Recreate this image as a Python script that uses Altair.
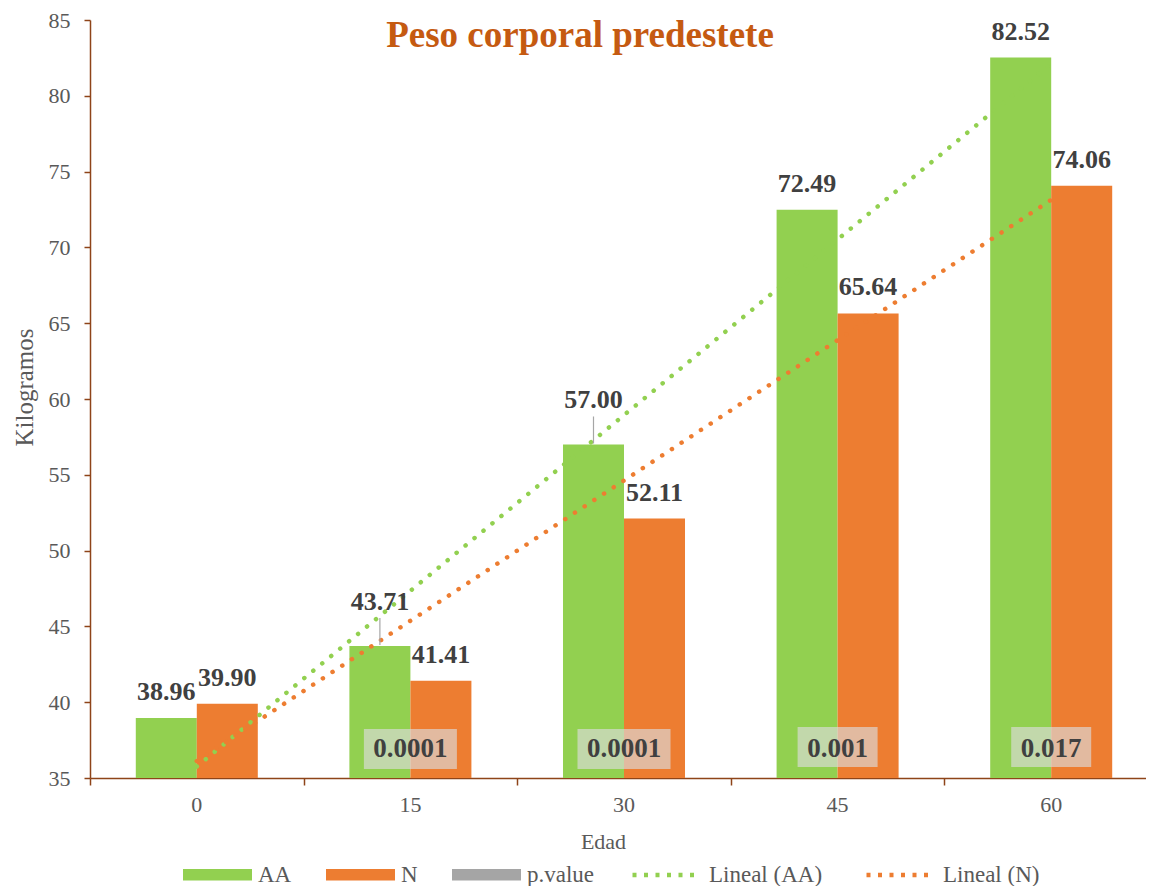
import altair as alt
import pandas as pd

# ---- data ----
edades = [0, 15, 30, 45, 60]
serie_aa = [38.96, 43.71, 57.00, 72.49, 82.52]
serie_n = [39.90, 41.41, 52.11, 65.64, 74.06]
pval_edades = [15, 30, 45, 60]
pval_texto = ["0.0001", "0.0001", "0.001", "0.017"]
series = ["AA", "N", "p.value"]
lineas = ["Lineal (AA)", "Lineal (N)"]
titulo = "Peso corporal predestete"

rows = []
for e, a, b in zip(edades, serie_aa, serie_n):
    rows.append({"edad": e, "serie": "AA", "valor": a})
    rows.append({"edad": e, "serie": "N", "valor": b})
df = pd.DataFrame(rows)
dfp = pd.DataFrame({"edad": pval_edades, "p": pval_texto})
dft = pd.DataFrame({"t": [titulo]})

# ---- styling ----
F = "Liberation Serif"
GREEN, ORANGE, GRAY = "#92D050", "#ED7D31", "#A5A5A5"
AXIS_C = "#8E4419"
TXT = "#595959"
LBL = "#404040"
W, H = 1056, 758
XR = 1068

x_enc = alt.X(
    "edad:O",
    title="Edad",
    scale=alt.Scale(range=[0, XR], paddingInner=0.4288, paddingOuter=0.2144),
    axis=alt.Axis(labelAngle=0, ticks=False, labelPadding=16,
                  titlePadding=16, titleX=513, domainColor=AXIS_C,
                  domainWidth=1.5, labelColor=TXT, labelFont=F,
                  labelFontSize=22, titleFont=F, titleFontSize=22,
                  titleFontWeight="normal", titleColor=TXT, grid=False),
)
y_enc = alt.Y(
    "valor:Q",
    title="Kilogramos",
    scale=alt.Scale(domain=[35, 85], nice=False, zero=False),
    axis=alt.Axis(values=list(range(35, 90, 5)), tickSize=6, labelPadding=14,
                  titlePadding=11, titleY=367, domainColor=AXIS_C, tickColor=AXIS_C,
                  domainWidth=1.5, tickWidth=1.5, labelColor=TXT, labelFont=F,
                  labelFontSize=22, titleFont=F, titleFontSize=25,
                  titleFontWeight="normal", titleColor=TXT, grid=False),
)
xoff = alt.XOffset("serie:N", scale=alt.Scale(domain=["AA", "N"], paddingInner=0, paddingOuter=0))

bars = alt.Chart(df).mark_bar().encode(
    x=x_enc, xOffset=xoff, y=y_enc, y2=alt.datum(35),
    color=alt.Color(
        "serie:N",
        scale=alt.Scale(domain=series, range=[GREEN, ORANGE, GRAY]),
        legend=alt.Legend(orient="none", legendX=93, legendY=820, direction="horizontal",
                          columns=3, title=None, symbolType="M-1,-0.17H1V0.17H-1Z",
                          symbolSize=4761, symbolStrokeWidth=0, labelFont=F,
                          labelFontSize=23, labelColor=TXT, labelOffset=6,
                          columnPadding=34),
    ),
)

trend = alt.Chart(df).transform_regression(
    "edad", "valor", groupby=["serie"]
).transform_calculate(
    linea="'Lineal (' + datum.serie + ')'"
).mark_line(strokeWidth=4.5, strokeDash=[0.1, 11.5], strokeCap="round").encode(
    x=x_enc, y=y_enc,
    color=alt.Color(
        "linea:N",
        scale=alt.Scale(domain=lineas, range=[GREEN, ORANGE]),
        legend=alt.Legend(orient="none", legendX=540, legendY=820, direction="horizontal",
                          columns=2, title=None, symbolType="stroke", symbolSize=4225,
                          symbolStrokeWidth=4.5, symbolDash=[4, 7.5], labelFont=F,
                          labelFontSize=23, labelColor=TXT, labelOffset=9,
                          columnPadding=34),
    ),
)

raised = "datum.serie == 'AA' && (datum.edad == 15 || datum.edad == 30)"

labels = alt.Chart(df).transform_filter("!(" + raised + ")").mark_text(
    font=F, fontSize=26, fontWeight="bold", color=LBL, dy=-26, baseline="middle"
).encode(x=x_enc, xOffset=xoff, y=y_enc, text=alt.Text("valor:Q", format=".2f"))

labels_up = alt.Chart(df).transform_filter(raised).mark_text(
    font=F, fontSize=26, fontWeight="bold", color=LBL, dy=-44, baseline="middle"
).encode(x=x_enc, xOffset=xoff, y=y_enc, text=alt.Text("valor:Q", format=".2f"))

leaders = alt.Chart(df).transform_filter(raised).mark_rule(
    color="#A6A6A6", strokeWidth=1.2, yOffset=-1, y2Offset=-28
).encode(x=x_enc, xOffset=xoff, y=y_enc, y2="valor:Q")

box_long = alt.Chart(dfp).transform_filter("length(datum.p) >= 6").mark_bar(
    width=93, color="#DCDCDC", opacity=0.65
).encode(x=x_enc, y=alt.value(H - 49), y2=alt.value(H - 9))

box_short = alt.Chart(dfp).transform_filter("length(datum.p) < 6").mark_bar(
    width=80, color="#DCDCDC", opacity=0.65
).encode(x=x_enc, y=alt.value(H - 51), y2=alt.value(H - 11))

ptext = alt.Chart(dfp).mark_text(
    font=F, fontSize=27, fontWeight="bold", color=LBL, baseline="middle"
).encode(x=x_enc, y=alt.value(H - 29), text="p:N")

title = alt.Chart(dft).mark_text(
    font=F, fontSize=37, fontWeight="bold", color="#C55A11", baseline="alphabetic"
).encode(x=alt.value(490), y=alt.value(27), text="t:N")

main = alt.layer(
    bars, box_long, box_short, ptext, trend, leaders, labels, labels_up, title
).resolve_scale(color="independent")

# category-boundary tick marks (Excel style) on a plain band scale
ticks_layer = alt.Chart(df).mark_point(opacity=0).encode(
    x=alt.X("edad:O", title=None,
            scale=alt.Scale(range=[0, XR], paddingInner=0, paddingOuter=0),
            axis=alt.Axis(orient="bottom", labels=False, domain=False, title=None,
                          tickBand="extent", tickSize=7, tickColor=AXIS_C,
                          tickWidth=1.5, grid=False)),
)

chart = alt.layer(main, ticks_layer).resolve_scale(x="independent").properties(
    width=W, height=H,
    autosize=alt.AutoSizeParams(type="none"),
    padding={"left": 82, "top": 12, "right": 0, "bottom": 108},
).configure_view(stroke=None)

chart.save("out.html", embed_options={"renderer": "svg", "actions": False})
